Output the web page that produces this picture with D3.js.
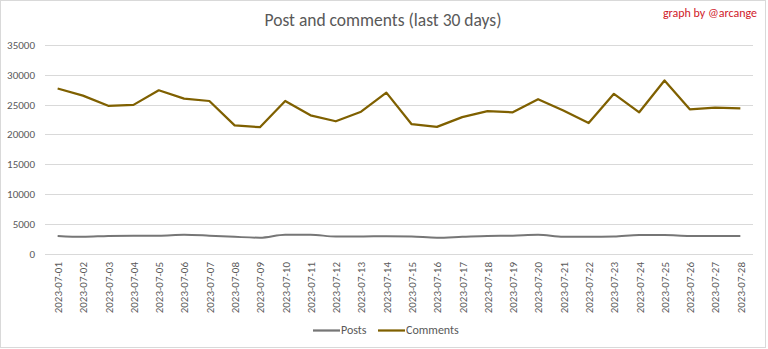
<!DOCTYPE html>
<html><head><meta charset="utf-8">
<script src="https://cdn.jsdelivr.net/npm/d3@7"></script>
<style>
body{margin:0;background:#fff;}
text{font-family:Calibri,Carlito,Lato,"Open Sans",sans-serif;}
</style></head>
<body><svg id="c" width="768" height="349"></svg>
<script>
const dates = ["2023-07-01","2023-07-02","2023-07-03","2023-07-04","2023-07-05","2023-07-06","2023-07-07","2023-07-08","2023-07-09","2023-07-10","2023-07-11","2023-07-12","2023-07-13","2023-07-14","2023-07-15","2023-07-16","2023-07-17","2023-07-18","2023-07-19","2023-07-20","2023-07-21","2023-07-22","2023-07-23","2023-07-24","2023-07-25","2023-07-26","2023-07-27","2023-07-28"];
const posts = [2950,2800,2950,3000,3000,3150,3000,2800,2650,3150,3150,2850,2850,2900,2850,2650,2800,2950,3000,3150,2800,2800,2850,3100,3100,2950,2950,2950];
const comments = [27700,26500,24800,24950,27400,26000,25600,21500,21200,25600,23200,22200,23800,27000,21700,21250,22900,23900,23700,25900,24000,21900,26800,23700,29050,24200,24500,24350];
const yTicks = [0,5000,10000,15000,20000,25000,30000,35000];

const svg = d3.select("#c");
svg.append("rect").attr("x",0.5).attr("y",0.5).attr("width",765).attr("height",347)
  .attr("fill","#fff").attr("stroke","#d9d9d9");

const x = d3.scalePoint().domain(dates).range([45,753]).padding(0.5);
const y = d3.scaleLinear().domain([0,35000]).range([253.5,45]);

svg.append("g").selectAll("line").data(yTicks).join("line")
  .attr("x1",45).attr("x2",753)
  .attr("y1",d=>Math.round(y(d))+0.5).attr("y2",d=>Math.round(y(d))+0.5)
  .attr("stroke","#d9d9d9").attr("stroke-width",1);

const yAxis = d3.axisLeft(y).tickValues(yTicks).tickSize(0).tickPadding(0).tickFormat(d3.format("d"));
svg.append("g").attr("transform","translate(35,0)").call(yAxis)
  .call(s=>s.select(".domain").remove())
  .selectAll("text").attr("fill","#595959").attr("font-size","11px");

const xAxis = d3.axisBottom(x).tickSize(0);
svg.append("g").attr("transform","translate(0,258)").call(xAxis)
  .call(s=>s.select(".domain").remove())
  .selectAll("text").attr("fill","#595959").attr("font-size","11px")
  .attr("transform","rotate(-90)").attr("text-anchor","end")
  .attr("x",-4).attr("y",0).attr("dy","0.35em");

const lp = d3.line().x((d,i)=>x(dates[i])).y(d=>y(d)).curve(d3.curveMonotoneX);
const lc = d3.line().x((d,i)=>x(dates[i])).y(d=>y(d));
svg.append("path").datum(posts).attr("d",lp).attr("fill","none")
  .attr("stroke","#767676").attr("stroke-width",2).attr("stroke-linejoin","round");
svg.append("path").datum(comments).attr("d",lc).attr("fill","none")
  .attr("stroke","#7f6000").attr("stroke-width",2.25).attr("stroke-linejoin","round");

svg.append("text").attr("x",383).attr("y",26).attr("text-anchor","middle")
  .attr("font-size","17.5px").attr("fill","#595959").text("Post and comments (last 30 days)");
svg.append("text").attr("x",757).attr("y",17).attr("text-anchor","end")
  .attr("font-size","12px").attr("fill","#d0212a").text("graph by @arcange");

const leg = [{n:"Posts",c:"#767676",x:313},{n:"Comments",c:"#7f6000",x:378}];
const lg = svg.append("g");
leg.forEach(l=>{
  lg.append("line").attr("x1",l.x).attr("x2",l.x+27).attr("y1",330.5).attr("y2",330.5)
    .attr("stroke",l.c).attr("stroke-width",2.25);
  lg.append("text").attr("x",l.x+28).attr("y",330).attr("dy","0.35em")
    .attr("font-size","12px").attr("fill","#595959").text(l.n);
});
</script></body></html>
